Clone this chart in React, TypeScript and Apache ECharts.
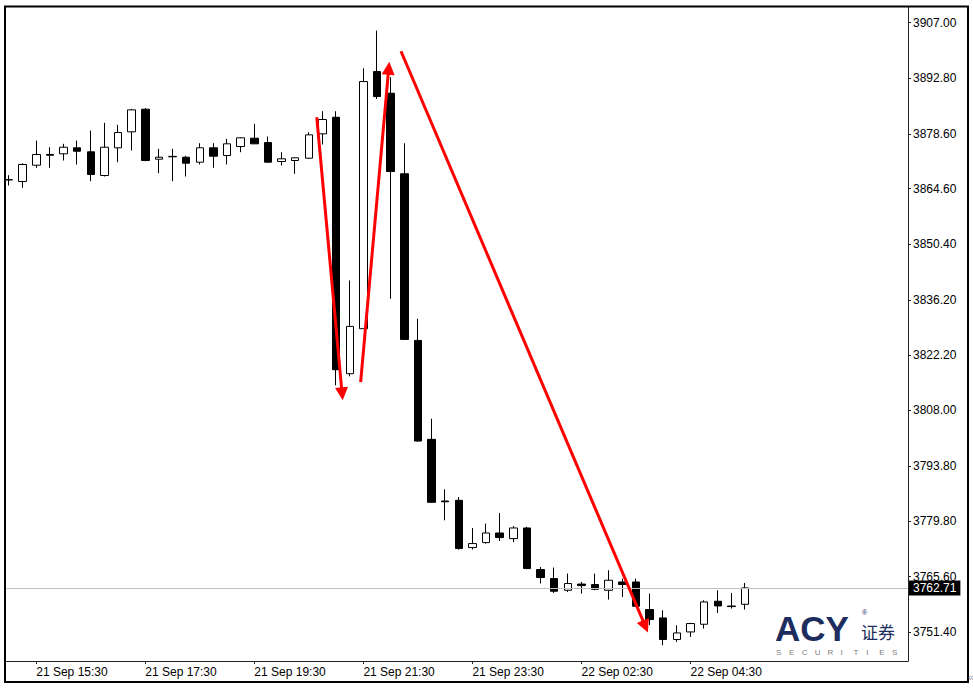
import React, { useEffect, useRef } from 'react';
import * as echarts from 'echarts';

// 15-minute candles (a one-hour session break after 21 Sep 23:45)
const times = [
  '21 Sep 15:00', '21 Sep 15:15', '21 Sep 15:30', '21 Sep 15:45', '21 Sep 16:00', '21 Sep 16:15',
  '21 Sep 16:30', '21 Sep 16:45', '21 Sep 17:00', '21 Sep 17:15', '21 Sep 17:30', '21 Sep 17:45',
  '21 Sep 18:00', '21 Sep 18:15', '21 Sep 18:30', '21 Sep 18:45', '21 Sep 19:00', '21 Sep 19:15',
  '21 Sep 19:30', '21 Sep 19:45', '21 Sep 20:00', '21 Sep 20:15', '21 Sep 20:30', '21 Sep 20:45',
  '21 Sep 21:00', '21 Sep 21:15', '21 Sep 21:30', '21 Sep 21:45', '21 Sep 22:00', '21 Sep 22:15',
  '21 Sep 22:30', '21 Sep 22:45', '21 Sep 23:00', '21 Sep 23:15', '21 Sep 23:30', '21 Sep 23:45',
  '22 Sep 01:00', '22 Sep 01:15', '22 Sep 01:30', '22 Sep 01:45', '22 Sep 02:00', '22 Sep 02:15',
  '22 Sep 02:30', '22 Sep 02:45', '22 Sep 03:00', '22 Sep 03:15', '22 Sep 03:30', '22 Sep 03:45',
  '22 Sep 04:00', '22 Sep 04:15', '22 Sep 04:30', '22 Sep 04:45', '22 Sep 05:00', '22 Sep 05:15',
  '22 Sep 05:30',
];

const opens = [
  3866.90, 3866.44, 3870.60, 3873.35, 3873.51, 3875.04, 3874.02, 3867.97, 3875.04, 3879.12,
  3884.88, 3872.13, 3872.85, 3872.64, 3871.37, 3875.04, 3873.07, 3875.37, 3877.49, 3876.39,
  3871.54, 3871.80, 3872.39, 3878.61, 3882.84, 3817.39, 3828.87, 3894.50, 3888.97, 3868.41,
  3825.88, 3800.63, 3784.90, 3785.07, 3773.01, 3774.28, 3776.73, 3775.30, 3778.01, 3767.40,
  3765.10, 3762.11, 3763.70, 3763.57, 3762.11, 3764.23, 3764.23, 3757.19, 3755.05, 3749.54,
  3751.48, 3753.44, 3759.31, 3758.10, 3758.54,
];
const closes = [
  3866.85, 3870.78, 3873.33, 3873.15, 3875.19, 3874.17, 3868.23, 3875.19, 3878.94, 3884.73,
  3871.80, 3872.64, 3872.75, 3871.11, 3875.04, 3872.90, 3876.06, 3877.59, 3876.06, 3871.37,
  3872.23, 3872.49, 3878.35, 3882.26, 3818.41, 3829.46, 3891.95, 3888.12, 3868.99, 3826.14,
  3800.20, 3784.56, 3784.70, 3772.75, 3774.03, 3776.73, 3775.56, 3778.01, 3767.65, 3765.36,
  3761.86, 3763.83, 3763.30, 3762.37, 3764.67, 3763.57, 3758.03, 3754.64, 3749.54, 3751.22,
  3753.62, 3759.13, 3758.11, 3757.95, 3762.71,
];
const lows = [
  3865.42, 3864.83, 3869.94, 3869.94, 3871.80, 3870.78, 3866.52, 3867.72, 3871.37, 3874.35,
  3871.60, 3868.56, 3866.52, 3867.72, 3870.78, 3869.94, 3870.78, 3873.92, 3876.00, 3871.30,
  3870.52, 3868.41, 3872.23, 3875.88, 3814.41, 3816.70, 3828.80, 3887.50, 3836.52, 3826.00,
  3800.00, 3784.40, 3779.97, 3772.50, 3772.50, 3774.00, 3774.69, 3774.40, 3767.50, 3763.83,
  3761.43, 3761.68, 3761.27, 3762.11, 3759.74, 3760.40, 3757.86, 3753.19, 3748.09, 3748.93,
  3750.20, 3752.35, 3756.32, 3757.45, 3757.19,
];
const highs = [
  3868.05, 3871.11, 3876.90, 3875.19, 3876.06, 3876.90, 3879.45, 3881.42, 3880.90, 3884.99,
  3885.20, 3874.78, 3874.78, 3873.00, 3876.21, 3876.21, 3877.33, 3877.74, 3881.16, 3877.92,
  3873.92, 3872.60, 3879.02, 3884.37, 3884.37, 3841.19, 3895.34, 3904.96, 3893.05, 3876.21,
  3831.42, 3805.91, 3787.88, 3785.91, 3778.01, 3779.13, 3781.83, 3778.50, 3778.30, 3768.06,
  3767.91, 3766.37, 3764.23, 3766.37, 3767.22, 3765.10, 3765.10, 3761.27, 3757.01, 3753.19,
  3753.80, 3759.56, 3762.11, 3761.43, 3763.98,
];

const yTickLabels = [
  3907.0, 3892.8, 3878.6, 3864.6, 3850.4, 3836.2, 3822.2, 3808.0, 3793.8, 3779.8, 3765.6, 3751.4,
];
const xLabelIndices = [2, 10, 18, 26, 34, 42, 50];
const currentPrice = 3762.71;

// red arrows: [candle index, price] of start and end
const arrowStarts = [
  [22.58, 3882.84],
  [25.8, 3815.25],
  [28.76, 3899.68],
];
const arrowEnds = [
  [24.44, 3812.24],
  [27.86, 3895.34],
  [46.69, 3752.88],
];

const FONT = "'Liberation Sans', Arial, sans-serif";

export default function App() {
  const ref = useRef<HTMLDivElement>(null);

  useEffect(() => {
    if (!ref.current) return;
    const chart = echarts.init(ref.current, undefined, { renderer: 'svg' });

    const slots = 66;
    const slotW = 13.63;
    const g0Left = 2.185;
    const plotLeft = 5;
    const plotRight = 908;
    const top = 7;
    const height = 654;
    const yMin = 3744.06;
    const yMax = 3910.98;

    const categories = [...times, ...Array(slots - times.length).fill('')];
    const candles = opens.map((o, i) => [o, closes[i], lows[i], highs[i]]);

    const letters = 'SECURITIES'.split('');
    const logoNavy = '#1c2d5e';

    const option: any = {
      animation: false,
      backgroundColor: '#ffffff',
      grid: [
        { left: g0Left, top, width: slots * slotW, height, outerBoundsMode: 'none', containLabel: false },
        { left: plotLeft, top, width: plotRight - plotLeft, height, outerBoundsMode: 'none', containLabel: false },
      ],
      xAxis: [
        {
          type: 'category',
          gridIndex: 0,
          data: categories,
          boundaryGap: true,
          axisLine: { show: false, onZero: false },
          axisTick: {
            show: true,
            alignWithLabel: true,
            interval: (idx: number) => xLabelIndices.includes(idx),
            length: 3,
            lineStyle: { color: '#222' },
          },
          axisLabel: {
            show: true,
            interval: (idx: number) => xLabelIndices.includes(idx),
            align: 'left',
            margin: 5,
            color: '#000',
            fontSize: 12,
            fontFamily: FONT,
          },
          splitLine: { show: false },
        },
        {
          type: 'value',
          gridIndex: 1,
          position: 'bottom',
          min: (plotLeft - g0Left) / slotW - 0.5,
          max: (plotRight - g0Left) / slotW - 0.5,
          axisLine: { show: true, onZero: false, lineStyle: { color: '#222', width: 1 } },
          axisTick: { show: false },
          axisLabel: { show: false },
          splitLine: { show: false },
        },
      ],
      yAxis: [
        {
          type: 'value',
          gridIndex: 0,
          min: yMin,
          max: yMax,
          show: false,
          axisLine: { show: false, onZero: false },
          axisTick: { show: false },
          axisLabel: { show: false },
          splitLine: { show: false },
        },
        {
          type: 'value',
          gridIndex: 1,
          position: 'right',
          min: yMin,
          max: yMax,
          axisLine: { show: true, onZero: false, lineStyle: { color: '#222', width: 1 } },
          axisTick: { show: true, length: 3, customValues: yTickLabels, lineStyle: { color: '#222' } },
          axisLabel: {
            show: true,
            customValues: yTickLabels,
            formatter: (v: number) => v.toFixed(2),
            color: '#000',
            fontSize: 12,
            fontFamily: FONT,
            margin: 5,
          },
          splitLine: { show: false },
        },
      ],
      series: [
        {
          type: 'line',
          xAxisIndex: 1,
          yAxisIndex: 1,
          data: [],
          z: 1,
          silent: true,
          markLine: {
            silent: true,
            symbol: ['none', 'none'],
            lineStyle: { color: '#c0c0c0', width: 1, type: 'solid' },
            label: {
              show: true,
              position: 'end',
              distance: 1,
              formatter: () => currentPrice.toFixed(2),
              backgroundColor: '#000',
              color: '#fff',
              padding: [2, 4, 1, 4],
              fontSize: 12,
              fontFamily: FONT,
            },
            data: [{ yAxis: currentPrice }],
          },
        },
        {
          type: 'candlestick',
          xAxisIndex: 0,
          yAxisIndex: 0,
          z: 3,
          barWidth: 8,
          data: candles,
          itemStyle: {
            color: '#ffffff',
            color0: '#000000',
            borderColor: '#000000',
            borderColor0: '#000000',
            borderWidth: 1,
          },
        },
        {
          type: 'lines',
          coordinateSystem: 'cartesian2d',
          xAxisIndex: 1,
          yAxisIndex: 1,
          z: 6,
          symbol: ['none', 'triangle'],
          symbolSize: 13,
          lineStyle: { color: '#ff0000', width: 3, opacity: 1, curveness: 0 },
          data: arrowStarts.map((s, i) => ({ coords: [s, arrowEnds[i]] })),
        },
      ],
      graphic: [
        {
          type: 'rect',
          shape: { x: 5, y: 6.5, width: 963, height: 675.5 },
          style: { fill: 'none', stroke: '#000', lineWidth: 2 },
          z: 20,
          silent: true,
        },
        {
          type: 'text',
          x: 775,
          y: 628,
          style: {
            text: 'ACY',
            fill: logoNavy,
            fontSize: 35,
            fontWeight: 'bold',
            fontFamily: FONT,
            verticalAlign: 'middle',
            lineHeight: 26,
          },
          z: 20,
        },
        {
          type: 'text',
          x: 862,
          y: 609,
          style: { text: '®', fill: logoNavy, fontSize: 7, fontFamily: FONT },
          z: 20,
        },
        {
          type: 'text',
          x: 861,
          y: 623,
          style: { text: '证券', fill: logoNavy, fontSize: 17, fontFamily: "'Noto Sans CJK SC', sans-serif" },
          z: 20,
        },
        ...letters.map((ch, i) => ({
          type: 'text',
          x: 776 + i * 12.9,
          y: 652,
          style: { text: ch, fill: '#808080', fontSize: 8, fontFamily: FONT, verticalAlign: 'middle' },
          z: 20,
        })),
        {
          type: 'text',
          x: 968,
          y: 671,
          style: { text: '«', fill: '#999', fontSize: 11, fontFamily: FONT },
          z: 20,
        },
      ],
    };

    chart.setOption(option);
    return () => chart.dispose();
  }, []);

  return (
    <div
      ref={ref}
      style={{ position: 'fixed', left: 0, top: 0, width: 973, height: 688, background: '#fff' }}
    />
  );
}
